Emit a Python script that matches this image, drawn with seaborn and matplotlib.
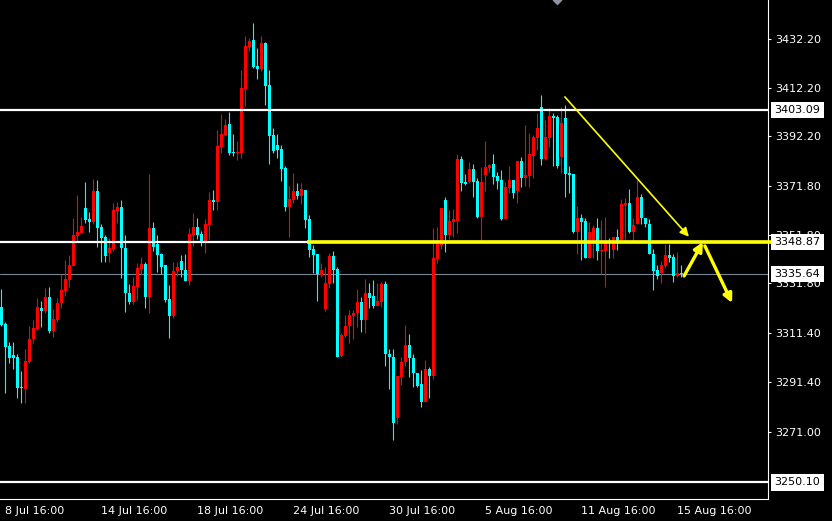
import numpy as np
import pandas as pd
import matplotlib
matplotlib.use('Agg')
import matplotlib.pyplot as plt
import matplotlib.transforms as mtransforms
import seaborn as sns

# H4 candles, 8 Jul 12:00 .. 15 Aug 20:00
opens = [
    3322.3, 3315.2, 3306.1, 3302.4, 3301.6, 3289.3, 3288.6, 3299.7, 3309.0, 3313.1,
    3321.9, 3320.6, 3326.4, 3312.3, 3316.8, 3323.9, 3328.7, 3333.2, 3339.0, 3351.4,
    3352.7, 3362.7, 3358.2, 3357.2, 3369.8, 3354.9, 3351.0, 3344.4, 3346.0, 3361.7,
    3363.1, 3346.5, 3327.8, 3324.3, 3330.5, 3337.8, 3339.8, 3326.4, 3354.5, 3347.9,
    3343.9, 3339.4, 3325.4, 3318.6, 3336.9, 3341.0, 3337.3, 3332.9, 3351.7, 3355.1,
    3352.1, 3349.0, 3355.8, 3366.1, 3365.4, 3388.0, 3392.8, 3397.3, 3385.9, 3385.3,
    3385.3, 3411.7, 3429.0, 3431.8, 3421.1, 3419.9, 3430.7, 3413.3, 3392.8, 3388.7,
    3387.0, 3379.3, 3363.2, 3366.1, 3369.8, 3367.8, 3370.2, 3358.3, 3346.0, 3343.9,
    3335.3, 3321.3, 3331.6, 3343.1, 3337.8, 3302.0, 3310.2, 3314.3, 3318.6, 3319.6,
    3324.3, 3316.8, 3328.0, 3326.7, 3322.6, 3324.3, 3331.5, 3302.9, 3301.7, 3276.7,
    3293.5, 3299.4, 3306.5, 3301.3, 3295.2, 3290.5, 3283.3, 3296.7, 3293.8, 3341.9,
    3347.6, 3366.1, 3351.7, 3357.2, 3357.5, 3382.9, 3373.6, 3373.6, 3378.8, 3373.9,
    3359.2, 3376.3, 3379.3, 3380.9, 3375.9, 3374.3, 3358.3, 3371.1, 3374.3, 3369.8,
    3382.1, 3375.2, 3376.1, 3384.3, 3391.7, 3404.4, 3382.9, 3391.7, 3400.6, 3400.0,
    3383.9, 3399.9, 3377.3, 3376.8, 3353.1, 3358.8, 3357.5, 3342.4, 3349.7, 3354.7,
    3345.1, 3345.1, 3349.2, 3345.5, 3351.0, 3349.0, 3364.0, 3365.0, 3353.1, 3356.1,
    3367.4, 3358.8, 3356.2, 3343.9, 3337.3, 3336.0, 3339.1, 3343.5, 3342.8, 3335.0,
    3336.0,
]
highs = [
    3329.5, 3316.1, 3307.9, 3307.8, 3302.7, 3295.9, 3304.9, 3314.3, 3316.8, 3326.0,
    3324.6, 3330.1, 3330.5, 3321.3, 3326.0, 3335.6, 3341.6, 3343.5, 3358.6, 3368.1,
    3359.2, 3373.3, 3361.3, 3374.6, 3374.3, 3356.2, 3351.7, 3350.4, 3365.0, 3365.1,
    3366.1, 3351.7, 3331.5, 3334.6, 3340.1, 3342.6, 3340.7, 3376.8, 3357.2, 3351.7,
    3344.4, 3339.4, 3331.2, 3340.7, 3340.7, 3343.5, 3343.9, 3354.5, 3360.6, 3358.6,
    3353.4, 3358.2, 3369.5, 3370.2, 3394.8, 3401.4, 3399.3, 3402.1, 3393.2, 3390.3,
    3419.5, 3433.4, 3432.7, 3438.9, 3428.6, 3433.4, 3431.1, 3419.5, 3395.8, 3393.2,
    3388.7, 3380.0, 3371.8, 3377.0, 3372.9, 3372.9, 3370.2, 3359.9, 3347.6, 3343.9,
    3340.1, 3338.5, 3344.2, 3345.1, 3338.7, 3311.4, 3318.9, 3320.9, 3320.9, 3329.4,
    3326.4, 3333.6, 3331.9, 3333.2, 3331.9, 3332.5, 3332.9, 3304.8, 3304.8, 3293.9,
    3301.5, 3314.8, 3311.1, 3302.7, 3295.2, 3296.3, 3300.4, 3297.6, 3354.7, 3355.1,
    3362.9, 3367.4, 3362.0, 3362.4, 3385.0, 3384.2, 3376.8, 3381.6, 3380.9, 3375.0,
    3379.8, 3390.3, 3380.9, 3385.0, 3377.7, 3378.4, 3373.3, 3380.0, 3374.3, 3382.1,
    3383.9, 3396.9, 3393.5, 3392.8, 3401.9, 3409.2, 3398.9, 3403.7, 3401.7, 3401.0,
    3404.1, 3405.1, 3380.0, 3376.8, 3363.6, 3360.2, 3358.6, 3357.2, 3355.8, 3358.6,
    3357.9, 3359.2, 3350.6, 3351.0, 3354.2, 3366.5, 3366.8, 3370.5, 3358.6, 3374.3,
    3368.5, 3358.8, 3358.2, 3346.0, 3339.4, 3341.0, 3347.9, 3347.9, 3343.8, 3344.9,
    3339.4,
]
lows = [
    3314.3, 3287.0, 3299.0, 3296.8, 3284.9, 3282.6, 3282.9, 3299.0, 3307.5, 3312.7,
    3314.1, 3319.6, 3311.6, 3310.0, 3316.1, 3321.6, 3326.8, 3330.5, 3339.0, 3349.4,
    3352.7, 3356.5, 3353.1, 3356.1, 3346.9, 3340.7, 3340.7, 3340.7, 3345.3, 3356.5,
    3333.9, 3320.0, 3323.3, 3323.3, 3324.9, 3335.6, 3321.6, 3319.6, 3345.3, 3336.6,
    3335.6, 3324.3, 3309.5, 3317.5, 3334.9, 3334.6, 3332.9, 3331.2, 3347.2, 3350.1,
    3347.2, 3344.4, 3350.1, 3362.0, 3362.0, 3385.5, 3392.5, 3384.6, 3384.3, 3382.5,
    3383.3, 3404.7, 3427.4, 3420.2, 3415.8, 3419.2, 3405.1, 3380.9, 3385.5, 3383.5,
    3374.0, 3361.6, 3351.0, 3364.9, 3366.6, 3364.6, 3354.7, 3342.8, 3336.2, 3324.7,
    3334.6, 3320.5, 3330.1, 3332.1, 3301.7, 3301.5, 3309.7, 3307.5, 3308.9, 3313.8,
    3312.0, 3311.6, 3321.9, 3321.6, 3322.6, 3322.3, 3297.9, 3288.5, 3267.5, 3274.1,
    3290.1, 3297.9, 3293.5, 3289.4, 3289.4, 3281.2, 3283.3, 3284.9, 3292.5, 3340.1,
    3345.8, 3344.9, 3349.9, 3351.0, 3352.4, 3369.9, 3372.2, 3373.2, 3367.4, 3358.6,
    3349.2, 3369.8, 3377.5, 3372.6, 3370.5, 3357.9, 3358.3, 3369.1, 3367.0, 3364.9,
    3371.5, 3372.0, 3371.5, 3375.0, 3386.6, 3380.5, 3382.5, 3388.0, 3380.0, 3379.1,
    3377.0, 3367.4, 3369.1, 3352.7, 3343.9, 3341.4, 3342.1, 3342.1, 3342.1, 3341.4,
    3335.7, 3330.5, 3342.1, 3342.4, 3345.5, 3349.0, 3349.0, 3352.4, 3349.4, 3356.1,
    3356.1, 3355.1, 3343.8, 3329.1, 3333.6, 3331.9, 3338.3, 3340.5, 3332.5, 3334.6,
    3334.6,
]
closes = [
    3314.8, 3305.9, 3301.3, 3301.3, 3289.0, 3289.0, 3300.0, 3309.0, 3313.5, 3322.3,
    3320.6, 3326.4, 3312.3, 3317.2, 3323.9, 3329.3, 3333.6, 3339.4, 3351.7, 3353.1,
    3355.4, 3357.9, 3357.2, 3369.8, 3354.7, 3350.6, 3343.2, 3346.3, 3362.0, 3363.1,
    3346.5, 3327.8, 3324.3, 3330.9, 3338.0, 3339.8, 3326.4, 3354.5, 3346.9, 3343.5,
    3338.7, 3325.0, 3318.6, 3336.9, 3338.7, 3337.3, 3332.9, 3352.1, 3355.1, 3351.7,
    3349.0, 3356.2, 3366.1, 3365.4, 3388.3, 3393.2, 3396.9, 3385.5, 3385.3, 3385.9,
    3412.1, 3429.3, 3431.4, 3420.6, 3419.9, 3430.7, 3412.9, 3392.4, 3386.3, 3386.6,
    3378.8, 3363.2, 3366.5, 3369.8, 3367.7, 3370.6, 3357.9, 3345.6, 3343.5, 3335.7,
    3337.3, 3331.9, 3343.1, 3337.3, 3301.7, 3310.7, 3314.3, 3318.9, 3319.8, 3324.3,
    3316.8, 3328.0, 3326.0, 3322.6, 3324.7, 3331.5, 3302.9, 3301.5, 3274.6, 3293.9,
    3299.4, 3306.5, 3301.1, 3294.9, 3289.7, 3283.3, 3296.7, 3293.8, 3342.3, 3348.3,
    3362.9, 3351.7, 3357.5, 3358.2, 3382.9, 3373.2, 3372.6, 3378.8, 3373.6, 3359.2,
    3373.3, 3379.8, 3380.5, 3375.6, 3373.9, 3358.2, 3371.5, 3374.3, 3369.1, 3382.1,
    3375.2, 3376.3, 3385.0, 3392.1, 3395.8, 3382.9, 3392.1, 3400.6, 3399.9, 3380.0,
    3397.8, 3376.8, 3376.3, 3353.1, 3358.8, 3357.2, 3342.4, 3353.1, 3354.7, 3345.1,
    3345.5, 3349.0, 3348.7, 3351.0, 3349.0, 3364.4, 3364.7, 3353.1, 3355.8, 3367.4,
    3358.6, 3356.1, 3343.8, 3337.0, 3334.9, 3339.4, 3343.5, 3342.4, 3335.0, 3336.0,
    3335.64,
]

tick_bars = [1, 25, 49, 73, 97, 121, 145, 169]
tick_labels = ['8 Jul 16:00', '14 Jul 16:00', '18 Jul 16:00', '24 Jul 16:00',
               '30 Jul 16:00', '5 Aug 16:00', '11 Aug 16:00', '15 Aug 16:00']
price_ticks = [3432.20, 3412.20, 3392.20, 3371.80, 3351.80, 3331.80, 3311.40, 3291.40, 3271.00]

white_levels = [3403.09, 3348.87, 3250.10]
support_level = 3348.87
support_from_bar = 76.4
bid_price = 3335.64
box_levels = [3403.09, 3348.87, 3335.64, 3250.10]

# drawn arrows: (start bar, start price) -> (end bar, end price)
arrow_from = [(140.9, 3408.4), (170.7, 3334.9), (175.9, 3347.2)]
arrow_to = [(171.9, 3351.0), (175.4, 3348.8), (182.7, 3323.8)]
arrow_width = [1.2, 2.4, 2.4]

sns.set_theme(style='dark', rc={
    'axes.facecolor': 'black', 'figure.facecolor': 'black',
    'axes.edgecolor': 'white', 'xtick.color': 'white', 'ytick.color': 'white',
    'text.color': 'white', 'axes.grid': False,
})
plt.rcParams['font.family'] = ['DejaVu Sans']

df = pd.DataFrame({'open': opens, 'high': highs, 'low': lows, 'close': closes})
df['bar'] = np.arange(len(df))
df['color'] = np.where(df['close'] >= df['open'], '#ff0000', '#00ffff')
df['body_lo'] = df[['open', 'close']].min(axis=1)
df['body_h'] = (df['close'] - df['open']).abs().clip(lower=0.45)

fig = plt.figure(figsize=(8.32, 5.21), dpi=100)
ax = fig.add_axes([0, 22 / 521, 768 / 832, 499 / 521])
ax.set_xlim(-0.325, 191.675)
ax.set_ylim(3243.3, 3448.2)

# bid line behind the candles
ax.axhline(bid_price, color='#778899', lw=0.8, zorder=1)

# candles
ax.vlines(df['bar'], df['low'], df['high'], colors=df['color'], linewidth=0.8, zorder=2)
ax.bar(df['bar'], df['body_h'], bottom=df['body_lo'], width=0.72,
       color=df['color'], linewidth=0, zorder=3)

# horizontal levels
for lvl in white_levels:
    ax.axhline(lvl, color='white', lw=1.6, zorder=4)
ax.hlines(support_level, support_from_bar, 192.4, color='#ffff00', lw=2.6,
          zorder=5, clip_on=False)

# arrows
for (x0, y0), (x1, y1), w in zip(arrow_from, arrow_to, arrow_width):
    ax.annotate('', xy=(x1, y1), xytext=(x0, y0),
                arrowprops=dict(arrowstyle='-|>', color='#ffff00', lw=w,
                                mutation_scale=13, shrinkA=0, shrinkB=0),
                zorder=6, annotation_clip=False)

# small marker at top
sns.scatterplot(x=[138.9], y=[3448.2], marker='D', color='#8a96a8', s=25,
                ax=ax, clip_on=True, zorder=6, linewidth=0)

# axes styling
for side in ['top', 'left']:
    ax.spines[side].set_visible(False)
ax.spines['right'].set_linewidth(0.8)
ax.spines['bottom'].set_linewidth(0.8)

ax.yaxis.tick_right()
ax.set_yticks(price_ticks)
ax.set_yticklabels([f'{v:.2f}' for v in price_ticks])
ax.tick_params(axis='y', length=2.2, width=0.8, pad=2.9, labelsize=8, colors='white')

ax.set_xticks(tick_bars)
ax.set_xticklabels(tick_labels, ha='left')
ax.tick_params(axis='x', length=2.2, width=0.8, pad=3.0, labelsize=8, colors='white')
for lab in ax.get_xticklabels():
    lab.set_horizontalalignment('left')

# price boxes on the scale
trans = mtransforms.blended_transform_factory(ax.transAxes, ax.transData)
for lvl in box_levels:
    ax.annotate(f'{lvl:.2f}', xy=(1.0, lvl), xycoords=trans,
                xytext=(6.5, 0), textcoords='offset pixels',
                ha='left', va='center', color='black', fontsize=8,
                bbox=dict(boxstyle='square,pad=0.3', fc='white', ec='none'),
                annotation_clip=False, zorder=10)

ax.set_xlabel('')
ax.set_ylabel('')
fig.savefig('out.png', dpi=100, facecolor='black')
